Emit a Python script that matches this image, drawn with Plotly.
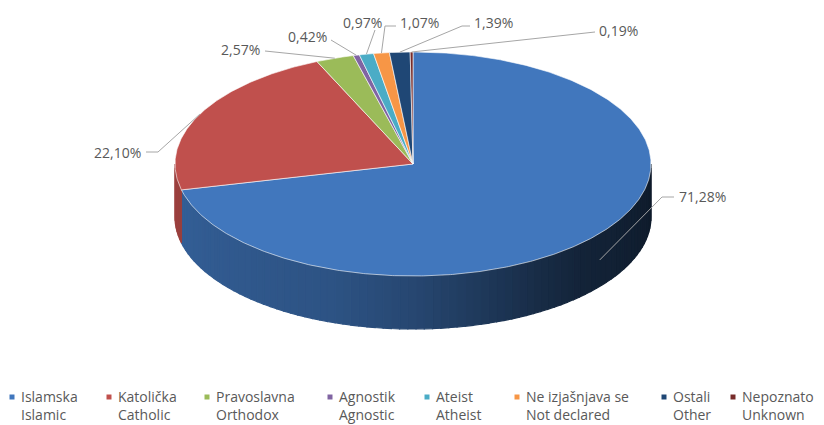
import numpy as np
import plotly.graph_objects as go

# ---- data ----
labels_bs = ["Islamska", "Katolička", "Pravoslavna", "Agnostik", "Ateist",
             "Ne izjašnjava se", "Ostali", "Nepoznato"]
labels_en = ["Islamic", "Catholic", "Orthodox", "Agnostic", "Atheist",
             "Not declared", "Other", "Unknown"]
values = [71.28, 22.10, 2.57, 0.42, 0.97, 1.07, 1.39, 0.19]

# ---- style ----
colors = ["#4177BD", "#C0504D", "#9BBB59", "#8064A2", "#4BACC6",
          "#F79646", "#1F4775", "#772C2A"]
TXT = "#595959"
FONT = "Open Sans"
W, H = 824, 425
OFF = 8  # page body margin, so that axis units equal screen pixels
CX, CY, RX, RY, DEPTH = 413, 164, 238, 112, 53

# label placement (layout): text x, y, anchor, elbow points of the leader
label_layout = [
    (677, 196, "left",  [(662, 197), (674, 197)]),
    (143, 152, "right", [(158, 152), (146, 152)]),
    (262, 49,  "right", [(265, 51)]),
    (329, 36,  "right", [(331, 40)]),
    (384, 22,  "right", [(375, 30)]),
    (398, 22,  "left",  [(385, 26), (396, 26)]),
    (472, 22,  "left",  [(462, 26), (470, 26)]),
    (597, 30,  "left",  [(595, 32)]),
]
# legend placement (layout): marker x of each entry
legend_x = [12, 109, 207, 330, 427, 517, 664, 733]
LEG_Y1, LEG_Y2 = 397, 413

# side shading profile (style): brightness vs. position from right (0) to left (1)
shade_t = [0.0, 0.25, 0.33, 0.5, 0.61, 1.0]
shade_f = [0.22, 0.30, 0.38, 0.60, 0.70, 0.82]


def pt(theta, dy=0.0):
    t = np.radians(theta)
    return CX + RX * np.sin(t), CY - RY * np.cos(t) + dy


def hex2rgb(h):
    h = h.lstrip("#")
    return tuple(int(h[i:i + 2], 16) for i in (0, 2, 4))


def shade(h, f):
    r, g, b = hex2rgb(h)
    return "rgb(%d,%d,%d)" % (r * f, g * f, b * f)


total = sum(values)
cum = np.cumsum([0] + values) / total * 360.0
starts, ends = cum[:-1], cum[1:]

fig = go.Figure()

# ---- side (front, visible between 90 and 270 degrees) ----
for i, c in enumerate(colors):
    a, b = max(starts[i], 90.0), min(ends[i], 270.0)
    if a >= b:
        continue
    n = int(np.ceil((b - a) / 2.0))
    edges = np.linspace(a, b, n + 1)
    for k in range(n):
        th = np.linspace(edges[k], edges[k + 1], 4)
        xt, yt = pt(th)
        xb, yb = pt(th[::-1], DEPTH)
        tm = ((edges[k] + edges[k + 1]) / 2 - 90.0) / 180.0
        col = shade(c, float(np.interp(tm, shade_t, shade_f)))
        fig.add_trace(go.Scatter(
            x=np.concatenate([xt, xb, xt[:1]]), y=np.concatenate([yt, yb, yt[:1]]),
            mode="lines", fill="toself", fillcolor=col,
            line=dict(width=1.2, color=col), hoverinfo="skip", showlegend=False))

# ---- top face ----
for i, c in enumerate(colors):
    th = np.linspace(starts[i], ends[i], max(3, int((ends[i] - starts[i]) * 2)))
    xs, ys = pt(th)
    fig.add_trace(go.Scatter(
        x=np.concatenate([[CX], xs, [CX]]), y=np.concatenate([[CY], ys, [CY]]),
        mode="lines", fill="toself", fillcolor=c,
        line=dict(width=0.8, color="rgba(255,255,255,0.75)"),
        name=labels_en[i],
        hovertemplate=f"{labels_bs[i]} / {labels_en[i]}: {values[i]:.2f}%<extra></extra>",
        showlegend=False))

# ---- leaders and labels ----
for i, (lx, ly, anc, elbows) in enumerate(label_layout):
    mid = (starts[i] + ends[i]) / 2
    ax, ay = pt(mid, DEPTH / 2 if 90 < mid < 270 else 0)
    xs = [ax] + [p[0] for p in elbows]
    ys = [ay] + [p[1] for p in elbows]
    fig.add_trace(go.Scatter(x=xs, y=ys, mode="lines",
                             line=dict(color="#A6A6A6", width=1),
                             hoverinfo="skip", showlegend=False))
    fig.add_annotation(x=lx, y=ly, text=f"{values[i]:.2f}%".replace(".", ","),
                       showarrow=False, xanchor=anc, yanchor="middle",
                       font=dict(family=FONT, size=14, color=TXT))

# ---- legend (drawn entries) ----
for i, c in enumerate(colors):
    fig.add_trace(go.Scatter(x=[legend_x[i]], y=[LEG_Y1], mode="markers",
                             marker=dict(symbol="square", size=5, color=c),
                             name=labels_en[i], hoverinfo="skip", showlegend=False))
    fig.add_annotation(x=legend_x[i] + 7, y=(LEG_Y1 + LEG_Y2) / 2,
                       text=f"{labels_bs[i]}<br>{labels_en[i]}", showarrow=False,
                       xanchor="left", yanchor="middle", align="left",
                       font=dict(family=FONT, size=14, color=TXT))

fig.update_layout(
    width=W, height=H, margin=dict(l=0, r=0, t=0, b=0),
    paper_bgcolor="white", plot_bgcolor="white",
    xaxis=dict(range=[OFF, W + OFF], visible=False, fixedrange=True),
    yaxis=dict(range=[H + OFF, OFF], visible=False, fixedrange=True),
    showlegend=False,
)

fig.write_html("out.html")
